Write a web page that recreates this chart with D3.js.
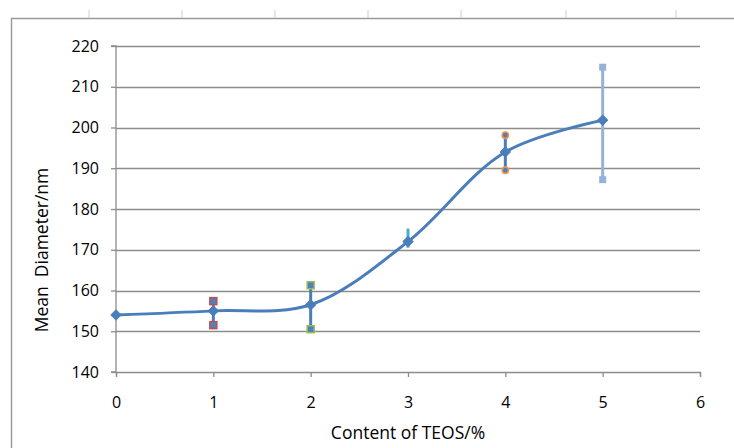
<!DOCTYPE html>
<html lang="en">
<head>
<meta charset="UTF-8">
<title>Mean Diameter</title>
<script src="https://cdn.jsdelivr.net/npm/d3@7/dist/d3.min.js"></script>
<style>
body{margin:0;background:#fff;}
text{font-family:"Open Sans","Liberation Sans",sans-serif;fill:#000;}
</style>
</head>
<body>
<script>
// data
var teos = [0, 1, 2, 3, 4, 5];
var diameter = [154, 155, 156.5, 172, 194, 201.8];
var errLow = [null, 151.5, 150.5, 170.5, 189.5, 187.2];
var errHigh = [null, 157.4, 161.3, 175.2, 198.1, 214.8];
var errColor = [null, "#c0504d", "#9bbb59", "#4bacc6", "#f79646", "#95b3d7"];
var errShape = [null, "square", "square", "none", "circle", "square"];
var yTicks = [140, 150, 160, 170, 180, 190, 200, 210, 220];
var xTicks = [0, 1, 2, 3, 4, 5, 6];

var width = 734, height = 448;
var svg = d3.select("body").append("svg").attr("width", width).attr("height", height);

// spreadsheet frame bits
svg.append("line").attr("x1", 11).attr("x2", width).attr("y1", 18.5).attr("y2", 18.5).attr("stroke", "#9a9a9a").attr("stroke-width", 1.5);
svg.append("line").attr("x1", 11.5).attr("x2", 11.5).attr("y1", 18).attr("y2", height).attr("stroke", "#9a9a9a").attr("stroke-width", 1.5);
[89, 182, 275, 368, 461, 566, 676].forEach(function(x){
	svg.append("line").attr("x1", x).attr("x2", x).attr("y1", 10).attr("y2", 18).attr("stroke", "#c8cde0");
});

var x = d3.scaleLinear().domain([0, 6]).range([116, 700]);
var y = d3.scaleLinear().domain([140, 220]).range([372, 46]);

// gridlines
svg.append("g").selectAll("line").data(yTicks.slice(1)).enter().append("line")
	.attr("x1", x(0)).attr("x2", x(6))
	.attr("y1", function(d){return Math.round(y(d)) + 0.5;})
	.attr("y2", function(d){return Math.round(y(d)) + 0.5;})
	.attr("stroke", "#8c8c8c").attr("stroke-width", 1.3);

// y axis
var yAxis = d3.axisLeft(y).tickValues(yTicks).tickSize(5).tickPadding(12);
var gy = svg.append("g").attr("transform", "translate(" + x(0) + ",0)").call(yAxis);
gy.selectAll("line, path").attr("stroke", "#8c8c8c").attr("stroke-width", 1.3);
gy.selectAll("text").style("font-size", "16px").attr("fill", "#000");
gy.select(".domain").attr("d", "M-5," + y(140) + "H0V" + y(220) + "H-5");

// x axis
var xAxis = d3.axisBottom(x).tickValues(xTicks).tickFormat(d3.format("d")).tickSize(5).tickPadding(20);
var gx = svg.append("g").attr("transform", "translate(0," + y(140) + ")").call(xAxis);
gx.selectAll("line, path").attr("stroke", "#8c8c8c").attr("stroke-width", 1.3);
gx.selectAll("text").style("font-size", "16px").attr("fill", "#000");

// axis titles
svg.append("text").attr("x", x(3)).attr("y", 439).attr("text-anchor", "middle").style("font-size", "17.5px").text("Content of TEOS/%");
svg.append("text").attr("transform", "translate(48,250) rotate(-90)").attr("text-anchor", "middle").style("font-size", "17.5px").text("Mean\u00a0\u00a0Diameter/nm");

// error bars
var idx = d3.range(teos.length).filter(function(i){return errLow[i] != null;});
var eb = svg.append("g");
idx.forEach(function(i){
	var cx = x(teos[i]);
	var lineCol = i == 5 ? "#95b3d7" : (i == 3 ? "#4bacc6" : "#4a7ebb");
	eb.append("line").attr("x1", cx).attr("x2", cx).attr("y1", y(errLow[i])).attr("y2", y(errHigh[i]))
		.attr("stroke", lineCol).attr("stroke-width", 3);
	[errLow[i], errHigh[i]].forEach(function(v){
		if (errShape[i] == "square") {
			var fill = i == 5 ? "#95b3d7" : "#4f81bd";
			eb.append("rect").attr("x", cx - 3.5).attr("y", y(v) - 3.5).attr("width", 7).attr("height", 7)
				.attr("fill", fill).attr("stroke", errColor[i]).attr("stroke-width", i == 5 ? 0 : 1.5);
		} else if (errShape[i] == "circle") {
			eb.append("circle").attr("cx", cx).attr("cy", y(v)).attr("r", 3.2)
				.attr("fill", "#4f81bd").attr("stroke", errColor[i]).attr("stroke-width", 1.5);
		}
	});
});

// smoothed line
var line = d3.line().x(function(d, i){return x(teos[i]);}).y(function(d){return y(d);}).curve(d3.curveCatmullRom.alpha(0.5));
svg.append("path").datum(diameter).attr("d", line).attr("fill", "none").attr("stroke", "#4a7ebb").attr("stroke-width", 3);

// diamond markers
svg.append("g").selectAll("path").data(diameter).enter().append("path")
	.attr("d", d3.symbol().type(d3.symbolDiamond2).size(70))
	.attr("transform", function(d, i){return "translate(" + x(teos[i]) + "," + y(d) + ")";})
	.attr("fill", "#4a7ebb").attr("stroke", "#4a7ebb").attr("stroke-width", 1);
</script>
</body>
</html>
